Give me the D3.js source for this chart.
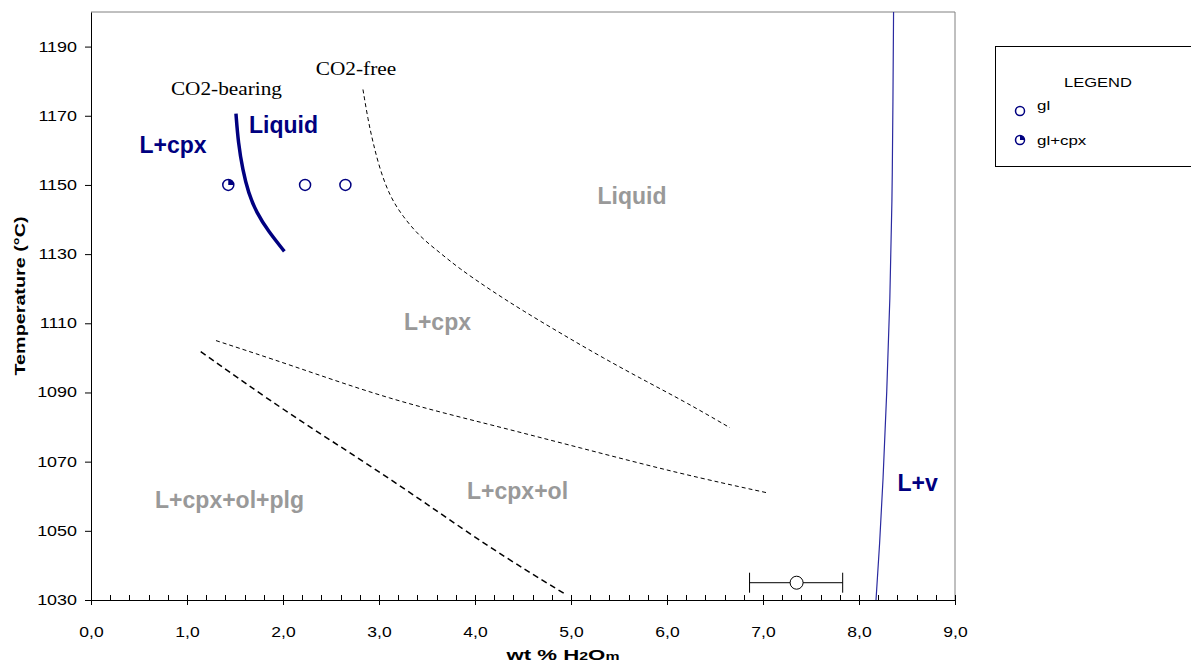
<!DOCTYPE html>
<html><head><meta charset="utf-8">
<script src="https://cdn.jsdelivr.net/npm/d3@7"></script>
<style>
body{margin:0;background:#fff}
svg{display:block}
text{font-family:Arial,"Liberation Sans",sans-serif}
</style>
</head><body>
<svg id="chart" width="1191" height="663"></svg>
<script>
// ---------- data ----------
const xTickValues = [0,1,2,3,4,5,6,7,8,9];
const yTickValues = [1030,1050,1070,1090,1110,1130,1150,1170,1190];

const glH2O = [2.23, 2.65];
const glT   = [1150, 1150];
const glCpxH2O = [1.43];
const glCpxT   = [1150];

const errH2O = [7.35];
const errT   = [1035];
const errLow = [6.86];
const errHigh= [7.83];

// CO2-bearing liquidus (thick navy)
const co2BearH2O = [1.51, 1.534, 1.58, 1.639, 1.726, 1.847, 2.014];
const co2BearT   = [1170.6, 1162.1, 1154.4, 1147.7, 1141.9, 1136.6, 1130.8];

// CO2-free cpx-in curve (dashed)
const co2FreeH2O = [2.833, 2.885, 2.938, 3.01, 3.115, 3.25, 3.427, 3.635, 3.823, 4.156, 4.5, 4.917, 5.333, 5.79, 6.208, 6.656];
const co2FreeT   = [1177.6, 1168.9, 1162.2, 1154.4, 1146.6, 1140.8, 1135.0, 1130.4, 1126.1, 1119.7, 1113.6, 1106.7, 1100.0, 1093.1, 1087.0, 1079.8];

// ol-in (dashed, thin)
const olInH2O = [1.302, 2.073, 3.115, 4.135, 5.094, 6.135, 7.042];
const olInT   = [1105.0, 1098.0, 1087.9, 1080.9, 1074.0, 1066.5, 1061.0];

// plg-in (dashed, thicker)
const plgInH2O = [1.143, 2.073, 3.115, 4.135, 4.958];
const plgInT   = [1101.8, 1083.5, 1065.3, 1045.3, 1031.4];

// H2O saturation (L+v boundary)
const satH2O = [8.177, 8.215, 8.25, 8.29, 8.323, 8.345, 8.354, 8.36];
const satT   = [1030, 1046, 1064, 1090, 1117, 1145, 1175, 1200];

// labels
const navyLabels  = ["L+cpx", "Liquid", "L+v"];
const navyLabelX  = [0.854, 2.005, 8.61];
const navyLabelT  = [1159.3, 1165.1, 1061.5];
const grayLabels  = ["Liquid", "L+cpx", "L+cpx+ol", "L+cpx+ol+plg"];
const grayLabelX  = [5.635, 3.609, 4.443, 1.443];
const grayLabelT  = [1144.6, 1108.1, 1059.2, 1056.6];
const serifLabels = ["CO2-bearing", "CO2-free"];
const serifLabelX = [1.411, 2.76];
const serifLabelT = [1176.1, 1181.7];

const legendItems = ["gl", "gl+cpx"];

// ---------- drawing ----------
const svg = d3.select("#chart");
const x = d3.scaleLinear().domain([0, 9]).range([91, 955]);
const y = d3.scaleLinear().domain([1030, 1200]).range([600, 12]);
const navy = "#000080";
const loc = d3.formatLocale({decimal: ",", thousands: ".", grouping: [3], currency: ["", ""]});
const fmt = loc.format(".1f");

function stretch(sel, k) {
  sel.each(function() {
    const w = this.getComputedTextLength();
    d3.select(this).attr("textLength", w * k).attr("lengthAdjust", "spacingAndGlyphs");
  });
}
function fitTo(sel, w) {
  sel.attr("textLength", w).attr("lengthAdjust", "spacingAndGlyphs");
}

// frame (top & right)
svg.append("path")
  .attr("d", `M${x(0)},${y(1200)}H${x(9)}V${y(1030)}`)
  .attr("fill", "none").attr("stroke", "#808080").attr("stroke-width", 1);

// x axis minor ticks
const minor = d3.range(0, 9.001, 0.2).filter(v => Math.abs(v - Math.round(v)) > 1e-6);
svg.append("g").selectAll("line").data(minor).join("line")
  .attr("x1", d => Math.round(x(d)) + 0.5).attr("x2", d => Math.round(x(d)) + 0.5)
  .attr("y1", y(1030)).attr("y2", y(1030) - 5)
  .attr("stroke", "#000").attr("stroke-width", 1);

// x axis
const xAxis = d3.axisBottom(x).tickValues(xTickValues).tickFormat(fmt).tickSizeInner(5).tickSizeOuter(0).tickPadding(18);
const gx = svg.append("g").attr("transform", `translate(0,${y(1030)})`).call(xAxis);
gx.select(".domain").attr("stroke", "#000");
gx.selectAll(".tick line").attr("y1", -5).attr("y2", 5).attr("stroke", "#000");
gx.selectAll(".tick text").attr("font-size", 14).attr("fill", "#000").attr("dy", "0").attr("y", 37);
stretch(gx.selectAll(".tick text"), 1.25);

// y axis
const yAxis = d3.axisLeft(y).tickValues(yTickValues).tickFormat(d3.format("d")).tickSizeInner(6).tickSizeOuter(0).tickPadding(8);
const gy = svg.append("g").attr("transform", `translate(${x(0)},0)`).call(yAxis);
gy.select(".domain").attr("stroke", "#000");
gy.selectAll(".tick line").attr("stroke", "#000");
gy.selectAll(".tick text").attr("font-size", 14).attr("fill", "#000");
stretch(gy.selectAll(".tick text"), 1.28);

// axis titles
const yt = svg.append("text").attr("transform", "translate(25,296) rotate(-90)")
  .attr("text-anchor", "middle").attr("font-size", 14).attr("font-weight", "bold")
  .text("Temperature (°C)");
fitTo(yt, 159);

const xt = svg.append("text").attr("x", 563).attr("y", 660).attr("text-anchor", "middle")
  .attr("font-size", 14).attr("font-weight", "bold");
xt.append("tspan").text("wt % H");
xt.append("tspan").attr("font-size", 10).text("2");
xt.append("tspan").text("O");
xt.append("tspan").attr("font-size", 10).text("m");
fitTo(xt, 113);

// curves
const line = d3.line().x(d => x(d[0])).y(d => y(d[1])).curve(d3.curveBasis);
const zip = (a, b) => a.map((v, i) => [v, b[i]]);

svg.append("path").datum(zip(co2FreeH2O, co2FreeT)).attr("d", line)
  .attr("fill", "none").attr("stroke", "#000").attr("stroke-width", 1).attr("stroke-dasharray", "4,3");
svg.append("path").datum(zip(olInH2O, olInT)).attr("d", line)
  .attr("fill", "none").attr("stroke", "#000").attr("stroke-width", 1).attr("stroke-dasharray", "4,3");
svg.append("path").datum(zip(plgInH2O, plgInT)).attr("d", line)
  .attr("fill", "none").attr("stroke", "#000").attr("stroke-width", 1.5).attr("stroke-dasharray", "6,4");
svg.append("path").datum(zip(satH2O, satT)).attr("d", line)
  .attr("fill", "none").attr("stroke", "#2a2aa0").attr("stroke-width", 1.2);
svg.append("path").datum(zip(co2BearH2O, co2BearT)).attr("d", line)
  .attr("fill", "none").attr("stroke", navy).attr("stroke-width", 3.5);

// labels
svg.append("g").selectAll("text").data(navyLabels).join("text")
  .attr("x", (d, i) => x(navyLabelX[i])).attr("y", (d, i) => y(navyLabelT[i]))
  .attr("text-anchor", "middle").attr("font-size", 23).attr("font-weight", "bold").attr("fill", navy)
  .text(d => d);
svg.append("g").selectAll("text").data(grayLabels).join("text")
  .attr("x", (d, i) => x(grayLabelX[i])).attr("y", (d, i) => y(grayLabelT[i]))
  .attr("text-anchor", "middle").attr("font-size", 23).attr("font-weight", "bold").attr("fill", "#999999")
  .text(d => d);
const sl = svg.append("g").selectAll("text").data(serifLabels).join("text")
  .attr("x", (d, i) => x(serifLabelX[i])).attr("y", (d, i) => y(serifLabelT[i]))
  .attr("text-anchor", "middle").attr("font-size", 19).attr("fill", "#000")
  .style("font-family", "'Liberation Serif','Times New Roman',serif")
  .text(d => d);
stretch(sl, 1.12);

// markers
function pieMarker(g, cx, cy, r) {
  g.append("circle").attr("cx", cx).attr("cy", cy).attr("r", r)
    .attr("fill", "#fff").attr("stroke", navy).attr("stroke-width", 1.5);
  g.append("path").attr("transform", `translate(${cx},${cy})`)
    .attr("d", d3.arc()({innerRadius: 0, outerRadius: r, startAngle: 0, endAngle: Math.PI / 2}))
    .attr("fill", navy);
}
svg.append("g").selectAll("circle").data(glH2O).join("circle")
  .attr("cx", d => x(d)).attr("cy", (d, i) => y(glT[i])).attr("r", 5.5)
  .attr("fill", "#fff").attr("stroke", navy).attr("stroke-width", 1.5);
const gpc = svg.append("g");
glCpxH2O.forEach((v, i) => pieMarker(gpc, x(v), y(glCpxT[i]), 5.5));

// error bar point
const ge = svg.append("g");
errH2O.forEach((v, i) => {
  const cy = y(errT[i]);
  ge.append("line").attr("x1", x(errLow[i])).attr("x2", x(errHigh[i])).attr("y1", cy).attr("y2", cy).attr("stroke", "#000");
  [errLow[i], errHigh[i]].forEach(e => ge.append("line").attr("x1", x(e)).attr("x2", x(e))
    .attr("y1", cy - 10).attr("y2", cy + 10).attr("stroke", "#000"));
  ge.append("circle").attr("cx", x(v)).attr("cy", cy).attr("r", 6.5)
    .attr("fill", "#fff").attr("stroke", "#000").attr("stroke-width", 1);
});

// legend
const lg = svg.append("g");
lg.append("rect").attr("x", 995.5).attr("y", 46.5).attr("width", 220).attr("height", 120)
  .attr("fill", "#fff").attr("stroke", "#000").attr("stroke-width", 1);
const lt = lg.append("text").attr("x", 1098).attr("y", 87).attr("text-anchor", "middle")
  .attr("font-size", 13).text("LEGEND");
stretch(lt, 1.27);
lg.append("circle").attr("cx", 1020).attr("cy", 111).attr("r", 4.5)
  .attr("fill", "#fff").attr("stroke", navy).attr("stroke-width", 1.5);
pieMarker(lg, 1020, 140, 4.5);
const li = lg.selectAll("text.li").data(legendItems).join("text").attr("class", "li")
  .attr("x", 1037).attr("y", (d, i) => 110 + i * 35).attr("font-size", 13).text(d => d);
stretch(li, 1.3);
</script>
</body></html>
